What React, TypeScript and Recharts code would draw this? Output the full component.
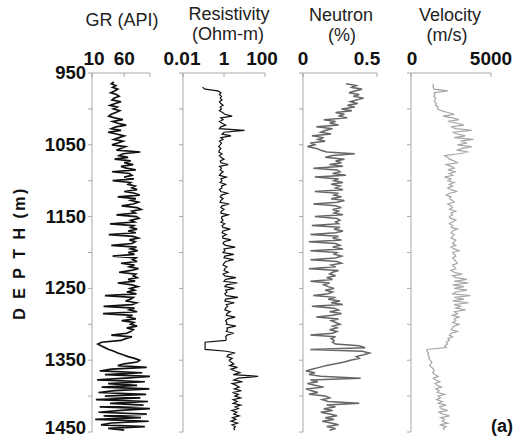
import { LineChart, Line, XAxis, YAxis } from "recharts";

// depth samples (m), every 2.5 m
const depths = [
  960, 962.5, 965, 967.5, 970, 972.5, 975, 977.5, 980, 982.5, 985, 987.5, 990, 992.5, 995, 997.5, 1000, 1002.5, 1005, 1007.5,
  1010, 1012.5, 1015, 1017.5, 1020, 1022.5, 1025, 1027.5, 1030, 1032.5, 1035, 1037.5, 1040, 1042.5, 1045, 1047.5, 1050, 1052.5, 1055, 1057.5,
  1060, 1062.5, 1065, 1067.5, 1070, 1072.5, 1075, 1077.5, 1080, 1082.5, 1085, 1087.5, 1090, 1092.5, 1095, 1097.5, 1100, 1102.5, 1105, 1107.5,
  1110, 1112.5, 1115, 1117.5, 1120, 1122.5, 1125, 1127.5, 1130, 1132.5, 1135, 1137.5, 1140, 1142.5, 1145, 1147.5, 1150, 1152.5, 1155, 1157.5,
  1160, 1162.5, 1165, 1167.5, 1170, 1172.5, 1175, 1177.5, 1180, 1182.5, 1185, 1187.5, 1190, 1192.5, 1195, 1197.5, 1200, 1202.5, 1205, 1207.5,
  1210, 1212.5, 1215, 1217.5, 1220, 1222.5, 1225, 1227.5, 1230, 1232.5, 1235, 1237.5, 1240, 1242.5, 1245, 1247.5, 1250, 1252.5, 1255, 1257.5,
  1260, 1262.5, 1265, 1267.5, 1270, 1272.5, 1275, 1277.5, 1280, 1282.5, 1285, 1287.5, 1290, 1292.5, 1295, 1297.5, 1300, 1302.5, 1305, 1307.5,
  1310, 1312.5, 1315, 1317.5, 1320, 1322.5, 1325, 1327.5, 1330, 1332.5, 1335, 1337.5, 1340, 1342.5, 1345, 1347.5, 1350, 1352.5, 1355, 1357.5,
  1360, 1362.5, 1365, 1367.5, 1370, 1372.5, 1375, 1377.5, 1380, 1382.5, 1385, 1387.5, 1390, 1392.5, 1395, 1397.5, 1400, 1402.5, 1405, 1407.5,
  1410, 1412.5, 1415, 1417.5, 1420, 1422.5, 1425, 1427.5, 1430, 1432.5, 1435, 1437.5, 1440, 1442.5, 1445, 1447.5,
];

// gamma ray (API)
const grValues = [
  null, 44, 40, 47, 42, 50, 45, 39, 48, 52, 44, 41, 55, 46, 38, 49, 43, 53, 47, 40,
  36, 45, 58, 42, 50, 63, 47, 40, 55, 35, 48, 60, 52, 44, 58, 50, 41, 62, 55, 48,
  85, 58, 52, 66, 45, 70, 60, 74, 55, 63, 78, 41, 68, 72, 60, 75, 42, 70, 66, 77,
  72, 80, 60, 76, 84, 50, 78, 70, 82, 74, 56, 80, 86, 72, 77, 48, 79, 83, 70, 76,
  38, 75, 70, 80, 66, 78, 36, 74, 82, 68, 77, 72, 40, 79, 70, 81, 66, 76, 42, 78,
  73, 80, 55, 76, 68, 82, 71, 52, 78, 74, 80, 66, 77, 50, 72, 81, 69, 76, 64, 79,
  30, 74, 70, 62, 79, 72, 28, 76, 68, 80, 27, 73, 66, 78, 56, 75, 70, 80, 64, 74,
  70, 64, 40, 72, 62, 55, 25, 19, 24, 30, 36, 44, 50, 58, 66, 76, 84, 80, 60, 50,
  95, 40, 22, 88, 30, 100, 62, 18, 92, 35, 80, 25, 99, 45, 20, 94, 30, 85, 16, 97,
  38, 90, 22, 100, 55, 20, 95, 28, 86, 15, 98, 40, 24, 92, 35, 60,
];

// resistivity (Ohm-m)
const resValues = [
  null, null, null, null, 0.09, 0.12, 0.5, 0.7, 0.6, 0.75, 0.65, 0.8, 0.6, 0.7, 0.9, 0.65, 0.75, 0.6, 0.85, 1.1,
  2.5, 0.7, 0.9, 0.6, 0.8, 1.2, 0.7, 0.6, 10, 1.0, 0.8, 2.2, 0.7, 0.9, 0.6, 0.75, 0.65, 0.55, 0.7, 0.6,
  0.55, 0.8, 0.6, 0.7, 1.0, 0.65, 0.7, 1.6, 0.6, 0.75, 0.65, 0.9, 0.7, 0.6, 1.3, 0.7, 0.8, 0.65, 1.2, 0.75,
  0.8, 0.6, 0.7, 1.5, 0.75, 0.65, 0.9, 0.7, 0.65, 1.8, 0.8, 0.7, 1.0, 0.75, 0.7, 1.6, 0.8, 0.75, 0.9, 0.7,
  1.1, 0.8, 0.9, 2.0, 0.9, 0.8, 1.3, 0.85, 0.9, 2.2, 1.0, 0.9, 1.2, 3.5, 1.0, 1.1, 0.9, 3.0, 1.1, 1.0,
  3.0, 1.2, 1.0, 0.9, 1.4, 1.1, 1.0, 1.6, 0.9, 1.1, 3.8, 1.2, 1.0, 4.5, 1.3, 1.1, 3.2, 1.2, 1.4, 1.1,
  1.3, 4.8, 1.2, 1.1, 3.2, 1.3, 1.5, 1.2, 1.1, 2.0, 1.4, 1.3, 3.5, 1.5, 1.2, 1.4, 1.3, 3.8, 1.4, 1.5,
  1.3, 3.0, 1.4, 1.2, 1.3, 1.2, 0.12, 0.12, 0.12, 0.12, 0.12, 1.3, 3.5, 1.6, 1.4, 2.5, 1.8, 2.2, 3.0, 1.9,
  4.5, 2.2, 3.5, 6.0, 2.8, 46, 5.0, 3.0, 8.0, 2.5, 4.0, 5.5, 3.2, 7.0, 2.6, 5.0, 3.4, 6.5, 2.8, 4.4,
  2.8, 6.5, 3.5, 5.0, 2.4, 4.2, 3.0, 5.5, 2.6, 3.8, 2.2, 4.6, 2.5, 3.6, 3.0, 3.4,
];

// neutron porosity (fraction)
const neutronValues = [
  null, null, 0.29, 0.36, 0.33, 0.4, 0.35, 0.31, 0.38, 0.34, 0.41, 0.36, 0.32, 0.37, 0.3, 0.35, 0.26, 0.33, 0.22, 0.28,
  0.24, 0.3, 0.14, 0.22, 0.18, 0.24, 0.09, 0.2, 0.15, 0.12, 0.19, 0.06, 0.14, 0.1, 0.15, 0.05, 0.08, 0.03, 0.09, 0.12,
  0.16, 0.35, 0.2, 0.15, 0.28, 0.22, 0.26, 0.18, 0.27, 0.07, 0.23, 0.25, 0.2, 0.29, 0.08, 0.24, 0.21, 0.27, 0.19, 0.25,
  0.22, 0.27, 0.08, 0.24, 0.21, 0.26, 0.19, 0.28, 0.23, 0.07, 0.22, 0.26, 0.2, 0.24, 0.21, 0.27, 0.08, 0.23, 0.25, 0.22,
  0.24, 0.06, 0.25, 0.21, 0.27, 0.22, 0.05, 0.24, 0.2, 0.26, 0.04, 0.22, 0.25, 0.2, 0.27, 0.05, 0.23, 0.21, 0.26, 0.22,
  0.05, 0.23, 0.26, 0.19, 0.22, 0.04, 0.24, 0.2, 0.18, 0.22, 0.16, 0.2, 0.05, 0.18, 0.14, 0.17, 0.21, 0.15, 0.2, 0.17,
  0.07, 0.22, 0.17, 0.25, 0.19, 0.27, 0.06, 0.21, 0.24, 0.18, 0.26, 0.2, 0.09, 0.24, 0.19, 0.22, 0.25, 0.2, 0.23, 0.18,
  0.23, 0.2, 0.05, 0.22, 0.19, 0.21, 0.2, 0.22, 0.38, 0.42, 0.05, 0.4, 0.45, 0.41, 0.36, 0.38, 0.32, 0.28, 0.22, 0.16,
  0.11, 0.06, 0.02, 0.08, 0.04, 0.12, 0.39, 0.05, 0.1, 0.03, 0.08, 0.14, 0.02, 0.06, 0.1, 0.04, 0.15, 0.18, 0.13, 0.17,
  0.38, 0.16, 0.22, 0.14, 0.2, 0.12, 0.18, 0.23, 0.15, 0.21, 0.13, 0.19, 0.24, 0.16, 0.22, 0.18,
];

// velocity (m/s)
const velocityValues = [
  null, null, 1350, 1400, 1380, 1450, 2300, 1450, 1500, 1420, 1550, 1480, 1450, 1600, 1520, 1700, 1650, 1900, 2300, 2700,
  2000, 2600, 3000, 2300, 2900, 3300, 2500, 2800, 3800, 2600, 2900, 3400, 2700, 3900, 3100, 3500, 2900, 3800, 3200, 2900,
  3600, 3000, 2100, 2300, 2400, 2700, 2900, 2200, 2500, 2700, 2300, 2800, 2400, 2600, 2100, 2500, 2300, 2700, 2400, 2600,
  2300, 2500, 2900, 2400, 2200, 2500, 2400, 2600, 2700, 2300, 2500, 2600, 2400, 2800, 2500, 2600, 2400, 2500, 2800, 2600,
  2400, 2600, 2500, 2900, 2600, 2500, 2700, 2600, 2500, 2800, 2700, 2600, 2800, 2500, 2700, 3000, 2600, 2700, 2800, 2600,
  2700, 2800, 2900, 2600, 2700, 2800, 2500, 2700, 3200, 2600, 2800, 3500, 2700, 3600, 2600, 3300, 2700, 3500, 2800, 2600,
  3700, 2700, 3300, 2600, 3600, 2700, 3100, 2800, 3400, 2700, 2900, 2600, 3000, 2700, 2800, 2600, 3000, 2700, 2600, 2500,
  2900, 2500, 2400, 2600, 2300, 2400, 2200, 2300, 2100, 2200, 1000, 1000, 1100, 1050, 1150, 1100, 1200, 1300, 1250, 1150,
  1300, 1400, 1450, 1350, 1500, 1700, 1400, 1550, 1800, 1500, 1650, 1900, 1550, 1750, 1650, 2100, 1700, 1850, 1600, 1950,
  1700, 2200, 1800, 1900, 2300, 1750, 2000, 2400, 1850, 2100, 1950, 2300, 1800, 2200, 2000, 2100,
];

const depthTicks = [950, 1000, 1050, 1100, 1150, 1200, 1250, 1300, 1350, 1400, 1450];
const depthLabels = [950, 1050, 1150, 1250, 1350, 1450];

const grTicks = [10, 60, 100];
const grLabels = ["10", "60", ""];
const resTicks = [0.01, 1, 100];
const resLabels = ["0.01", "1", "100"];
const neutronTicks = [0, 0.5];
const neutronLabels = ["0", "0.5"];
const velocityTicks = [0, 5000];
const velocityLabels = ["0", "5000"];

const FONT = "'Liberation Sans', Arial, sans-serif";
const AXIS_GRAY = "#a8a8a8";

interface TrackProps {
  values: (number | null)[];
  left: number;
  width: number;
  domain: [number, number];
  ticks: number[];
  labels: string[];
  shifts: number[];
  scale?: "linear" | "log";
  color: string;
  lineWidth: number;
  showDepth?: boolean;
}

function Track({
  values,
  left,
  width,
  domain,
  ticks,
  labels,
  shifts,
  scale = "linear",
  color,
  lineWidth,
  showDepth = false,
}: TrackProps) {
  const data = depths.map((depth, i) => ({ depth, value: values[i] }));
  // room on the left for the depth labels (first track) or for a wide first tick label
  const yWidth = showDepth ? 92 : 30;
  const rightPad = 30;

  const renderXTick = (props: any) => {
    const i = ticks.indexOf(props.payload.value);
    return (
      <text
        x={props.x + (shifts[i] || 0)}
        y={65}
        textAnchor="middle"
        fontFamily={FONT}
        fontSize={19}
        fontWeight="bold"
        fill="#111"
      >
        {labels[i]}
      </text>
    );
  };

  const renderYTick = (props: any) => {
    if (!showDepth || !depthLabels.includes(props.payload.value)) return <g />;
    return (
      <text
        x={86}
        y={Math.min(props.y + 6, 434)}
        textAnchor="end"
        fontFamily={FONT}
        fontSize={18.5}
        fontWeight="bold"
        fill="#111"
      >
        {props.payload.value}
      </text>
    );
  };

  return (
    <div style={{ position: "absolute", left: left - yWidth, top: 0 }}>
      <LineChart
        layout="vertical"
        width={yWidth + width + rightPad}
        height={438}
        data={data}
        margin={{ top: 0, right: rightPad, bottom: 6, left: 0 }}
      >
        <XAxis
          type="number"
          orientation="top"
          dataKey="value"
          scale={scale}
          domain={domain}
          ticks={ticks}
          interval={0}
          allowDataOverflow
          height={73}
          stroke={AXIS_GRAY}
          tickSize={-4}
          tick={renderXTick}
        />
        <YAxis
          type="number"
          dataKey="depth"
          domain={[950, 1450]}
          ticks={depthTicks}
          interval={0}
          allowDataOverflow
          width={yWidth}
          stroke={AXIS_GRAY}
          tickSize={4}
          tick={renderYTick}
        />
        <Line
          dataKey="value"
          type="linear"
          stroke={color}
          strokeWidth={lineWidth}
          dot={false}
          isAnimationActive={false}
        />
      </LineChart>
    </div>
  );
}

export default function App() {
  const titleStyle = { fontFamily: FONT, fontSize: 18, fill: "#222" };
  return (
    <div style={{ position: "fixed", left: 0, top: 0, width: 523, height: 438, background: "#fff", overflow: "hidden" }}>
      <Track values={grValues} left={92} width={58} domain={[10, 100]} ticks={grTicks}
        labels={grLabels} shifts={[2, 0, 0]} color="#111" lineWidth={1.7} showDepth />
      <Track values={resValues} left={183} width={82} domain={[0.01, 100]} scale="log"
        ticks={resTicks} labels={resLabels} shifts={[-1, 0, -3]} color="#111" lineWidth={1.2} />
      <Track values={neutronValues} left={303} width={74} domain={[0, 0.5]} ticks={neutronTicks}
        labels={neutronLabels} shifts={[0, -10]} color="#666" lineWidth={1.5} />
      <Track values={velocityValues} left={411} width={80} domain={[0, 5000]} ticks={velocityTicks}
        labels={velocityLabels} shifts={[1, 0]} color="#a6a6a6" lineWidth={1.2} />
      <svg width={523} height={438} style={{ position: "absolute", left: 0, top: 0, pointerEvents: "none" }}>
        <text x={122} y={26} textAnchor="middle" {...titleStyle}>GR (API)</text>
        <text x={229} y={20} textAnchor="middle" {...titleStyle}>Resistivity</text>
        <text x={228} y={40} textAnchor="middle" {...titleStyle}>(Ohm-m)</text>
        <text x={341} y={21} textAnchor="middle" {...titleStyle}>Neutron</text>
        <text x={342} y={41} textAnchor="middle" {...titleStyle}>(%)</text>
        <text x={450} y={21} textAnchor="middle" {...titleStyle}>Velocity</text>
        <text x={447} y={41} textAnchor="middle" {...titleStyle}>(m/s)</text>
        <text
          transform="translate(25, 253) rotate(-90)"
          textAnchor="middle"
          fontFamily={FONT}
          fontSize={16}
          fontWeight="bold"
          letterSpacing={2.5}
          fill="#111"
        >
          D E P T H (m)
        </text>
        <text x={502} y={432} textAnchor="middle" fontFamily={FONT} fontSize={18} fontWeight="bold" fill="#111">
          (a)
        </text>
      </svg>
    </div>
  );
}
